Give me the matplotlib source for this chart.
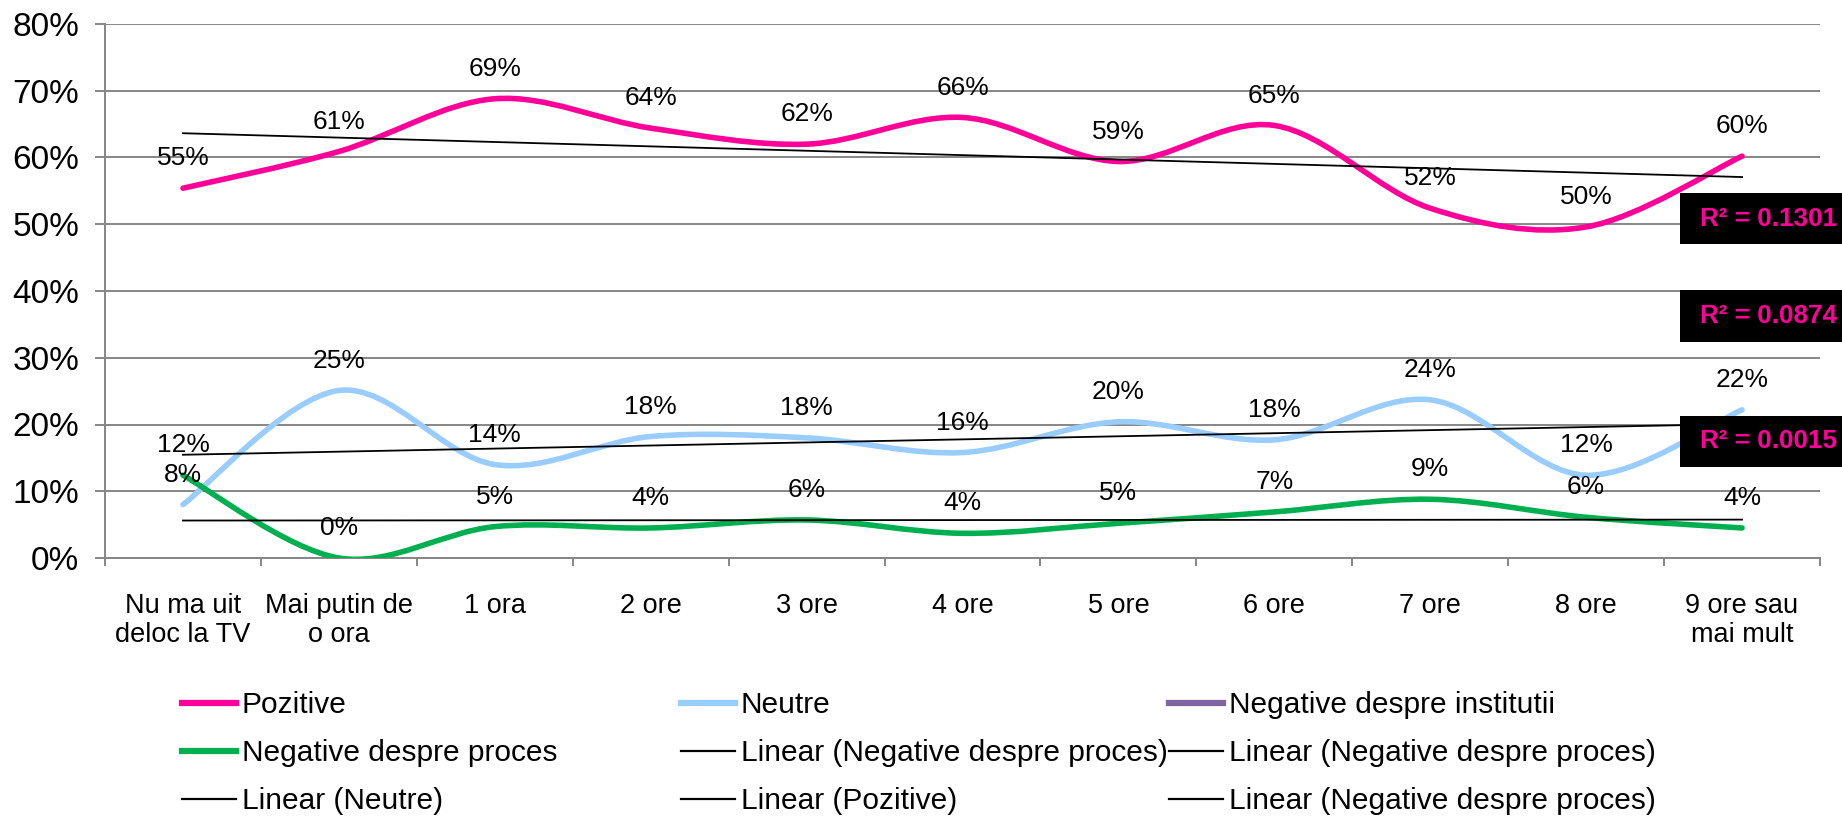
import numpy as np
import matplotlib
matplotlib.use("Agg")
import matplotlib.pyplot as plt
from matplotlib.path import Path
from matplotlib.patches import PathPatch, Rectangle
from matplotlib.lines import Line2D

plt.rcParams["font.family"] = ["Liberation Sans", "DejaVu Sans"]

# ── Data ──────────────────────────────────────────────────────────────────────
categories = ["Nu ma uit\ndeloc la TV", "Mai putin de\no ora", "1 ora", "2 ore",
              "3 ore", "4 ore", "5 ore", "6 ore", "7 ore", "8 ore",
              "9 ore sau\nmai mult"]
pozitive = [55.4, 60.9, 68.8, 64.4, 62.0, 66.0, 59.4, 64.8, 52.4, 49.6, 60.2]
neutre = [8.0, 25.1, 14.0, 18.2, 18.0, 15.8, 20.4, 17.7, 23.7, 12.4, 22.2]
neg_proces = [12.4, 0.0, 4.7, 4.5, 5.7, 3.7, 5.2, 6.9, 8.8, 6.1, 4.5]
r2_labels = ["R² = 0.1301", "R² = 0.0874", "R² = 0.0015"]
y_ticks = [0, 10, 20, 30, 40, 50, 60, 70, 80]

PINK = "#FF0099"
BLUE = "#99CCFF"
GREEN = "#00B050"
PURPLE = "#8064A2"
GRID = "#868686"

W, H = 1842, 817


def smooth_path(xs, ys):
    """Excel-like smoothed line: cubic Bezier through every point."""
    pts = np.column_stack([xs, ys]).astype(float)
    n = len(pts)
    verts, codes = [pts[0]], [Path.MOVETO]
    for i in range(n - 1):
        p0 = pts[max(i - 1, 0)]
        p1, p2 = pts[i], pts[i + 1]
        p3 = pts[min(i + 2, n - 1)]
        verts += [p1 + (p2 - p0) / 6, p2 - (p3 - p1) / 6, p2]
        codes += [Path.CURVE4] * 3
    return Path(verts, codes)


fig = plt.figure(figsize=(W / 100, H / 100), dpi=100)
ax = fig.add_axes([105 / W, 1 - 558 / H, (1820 - 105) / W, (558 - 24) / H])

x = np.arange(1, len(categories) + 1)
series = [(pozitive, PINK), (neutre, BLUE), (neg_proces, GREEN)]

for vals, col in series:
    ax.add_patch(PathPatch(smooth_path(x, vals), facecolor="none", edgecolor=col,
                           lw=4, capstyle="round", joinstyle="round", zorder=3))

# linear trendlines
for vals, _ in series:
    k, b = np.polyfit(x, vals, 1)
    ax.plot([x[0], x[-1]], [k * x[0] + b, k * x[-1] + b], color="black",
            lw=1.3, zorder=4)

# data labels
for vals, _ in series:
    for xi, v in zip(x, vals):
        ax.annotate(f"{round(v):.0f}%", (xi, v), xytext=(0, 21.5),
                    textcoords="offset points", ha="center", va="center",
                    fontsize=19, zorder=5)

ax.set_xlim(0.5, len(categories) + 0.5)
ax.set_ylim(0, 80)
ax.set_yticks(y_ticks)
ax.set_yticklabels([f"{t}%" for t in y_ticks], fontsize=24)
ax.tick_params(axis="y", length=7.5, width=1.4, color=GRID, pad=11)

ax.set_xticks(np.arange(0.5, len(categories) + 1, 1.0))
ax.set_xticklabels([])
ax.set_xticks(x, minor=True)
ax.set_xticklabels(categories, minor=True, fontsize=19.5, linespacing=1.15)
ax.tick_params(axis="x", which="major", length=5.5, width=1.4, color=GRID)
ax.tick_params(axis="x", which="minor", length=0, pad=25)

ax.yaxis.grid(True, color=GRID, lw=1.4)
ax.set_axisbelow(True)
for s in ["top", "right"]:
    ax.spines[s].set_visible(False)
for s in ["left", "bottom"]:
    ax.spines[s].set_color(GRID)
    ax.spines[s].set_linewidth(1.4)

# R² boxes
for (top, bot), txt in zip([(193, 244), (290, 342), (416, 467)], r2_labels):
    fig.add_artist(Rectangle((1680 / W, 1 - bot / H), (W - 1680) / W,
                             (bot - top) / H, transform=fig.transFigure,
                             facecolor="black", edgecolor="none", zorder=6))
    fig.text(1700 / W, 1 - (top + bot) / 2 / H, txt, color=PINK,
             fontweight="bold", fontsize=18.8, va="center", ha="left", zorder=7)

# legend, three columns laid out row by row
def trend():
    return Line2D([], [], color="black", lw=1.6)

columns = [
    (182, [Line2D([], [], color=PINK, lw=4.5), Line2D([], [], color=GREEN, lw=4.5), trend()],
     ["Pozitive", "Negative despre proces", "Linear (Neutre)"]),
    (681, [Line2D([], [], color=BLUE, lw=4.5), trend(), trend()],
     ["Neutre", "Linear (Negative despre proces)", "Linear (Pozitive)"]),
    (1169, [Line2D([], [], color=PURPLE, lw=4.5), trend(), trend()],
     ["Negative despre institutii", "Linear (Negative despre proces)",
      "Linear (Negative despre proces)"]),
]
for xpos, handles, labels in columns:
    fig.legend(handles, labels, loc="center left",
               bbox_to_anchor=(xpos / W, 1 - 753 / H), frameon=False,
               fontsize=21.5, handlelength=1.8, handletextpad=0.2,
               labelspacing=0.67, borderpad=0, borderaxespad=0)

fig.savefig("out.png", dpi=100)
